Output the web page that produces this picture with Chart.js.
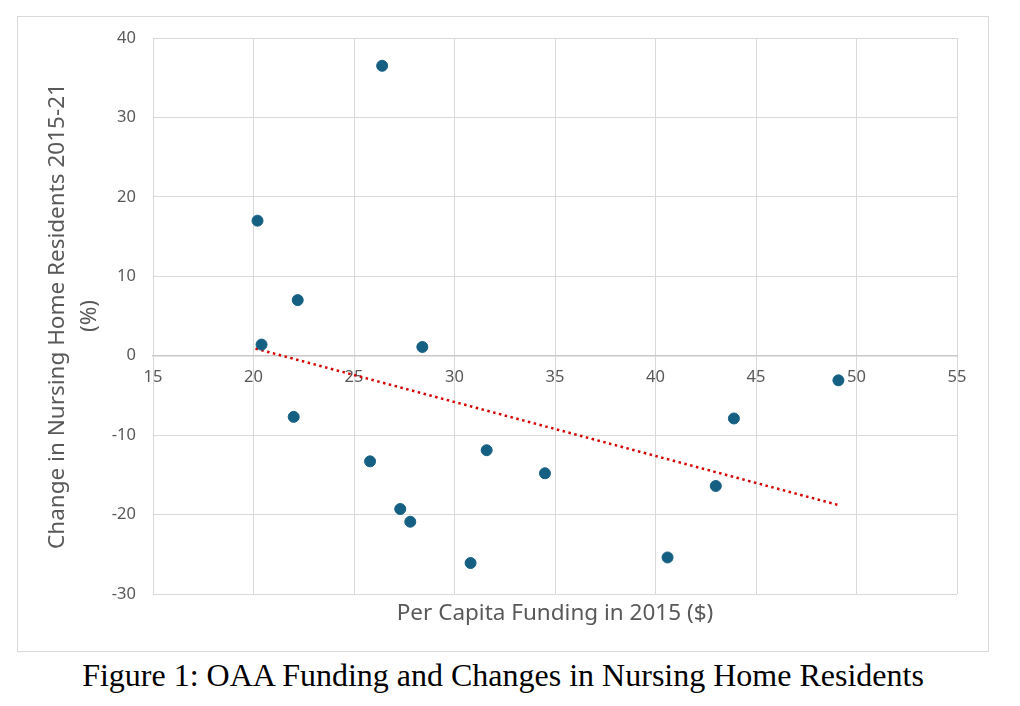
<!DOCTYPE html>
<html>
<head>
<meta charset="utf-8">
<script src="https://cdn.jsdelivr.net/npm/chart.js@4"></script>
<style>
    body { margin: 0; background: #fff; }
    #frame {
        position: absolute; left: 17px; top: 16px;
        width: 970px; height: 634px;
        border: 1px solid #d9d9d9;
    }
    #caption {
        position: absolute; left: 0; top: 655px; width: 1006px;
        text-align: center;
        font-family: "Liberation Serif", "Times New Roman", serif;
        font-size: 32px; line-height: 40px; color: #000;
    }
</style>
</head>
<body>
<div id="frame"><canvas id="chart"></canvas></div>
<div id="caption">Figure 1: OAA Funding and Changes in Nursing Home Residents</div>
<script>
// per capita funding 2015 ($) and change in residents 2015-21 (%)
const fundingX = [26.4, 20.2, 22.2, 20.4, 28.4, 22.0, 25.8, 31.6, 34.5, 27.3, 27.8, 30.8, 40.6, 43.0, 43.9, 49.1];
const changeY = [36.5, 17.0, 7.0, 1.4, 1.1, -7.7, -13.3, -11.9, -14.8, -19.3, -20.9, -26.1, -25.4, -16.4, -7.9, -3.1];

// linear trendline ends
const trendX = [20.1, 49.1];
const trendY = [0.9, -18.8];

const xTitle = 'Per Capita Funding in 2015 ($)';
const yTitle = ['Change in Nursing Home Residents 2015-21', '(%)'];

const grey = '#595959';
const gridGrey = '#d9d9d9';
const font = '"Noto Sans", "Open Sans", sans-serif';

function displayScatter($ctx) {
    new Chart($ctx, {
        type: 'scatter',
        data: {
            datasets: [{
                label: 'states',
                data: fundingX.map((x, i) => ({ x: x, y: changeY[i] })),
                backgroundColor: '#156082',
                borderColor: '#156082',
                pointRadius: 5.5,
                pointHoverRadius: 5.5,
                order: 1
            }, {
                label: 'trend',
                type: 'line',
                data: trendX.map((x, i) => ({ x: x, y: trendY[i] })),
                borderColor: '#d40000',
                borderWidth: 2.5,
                borderDash: [2.5, 3.5],
                pointRadius: 0,
                fill: false,
                order: 2
            }]
        },
        options: {
            responsive: true,
            maintainAspectRatio: false,
            animation: false,
            layout: { padding: { top: 21, right: 31, left: 0, bottom: 0 } },
            plugins: {
                legend: { display: false },
                tooltip: { enabled: false },
                title: {
                    display: true,
                    position: 'bottom',
                    fullSize: false,
                    text: xTitle,
                    color: grey,
                    font: { family: font, size: 22.5, weight: 'normal' },
                    padding: { top: 6, bottom: 24 }
                }
            },
            scales: {
                x: {
                    type: 'linear',
                    position: { y: 0 },
                    min: 15,
                    max: 55,
                    ticks: { stepSize: 5, color: grey, padding: 12, font: { family: font, size: 16.5 } },
                    grid: { color: gridGrey, drawTicks: false },
                    border: { color: '#c8c8c8', width: 1.5 }
                },
                y: {
                    type: 'linear',
                    position: 'left',
                    min: -30,
                    max: 40,
                    ticks: { stepSize: 10, color: grey, padding: 17, font: { family: font, size: 16.5 } },
                    grid: { color: gridGrey, drawTicks: false },
                    border: { color: gridGrey },
                    title: {
                        display: true,
                        text: yTitle,
                        color: grey,
                        font: { family: font, size: 22.5, lineHeight: 32 / 22.5 },
                        padding: { top: 24 }
                    },
                    afterFit: function(scale) {
                        // fixed axis width, and let layout padding decide the top
                        scale.width = 135;
                        scale.paddingTop = 0;
                        scale.paddingBottom = 0;
                    }
                }
            }
        }
    });
}

document.addEventListener('DOMContentLoaded', function() {
    displayScatter(document.getElementById('chart'));
}, false);
</script>
</body>
</html>
